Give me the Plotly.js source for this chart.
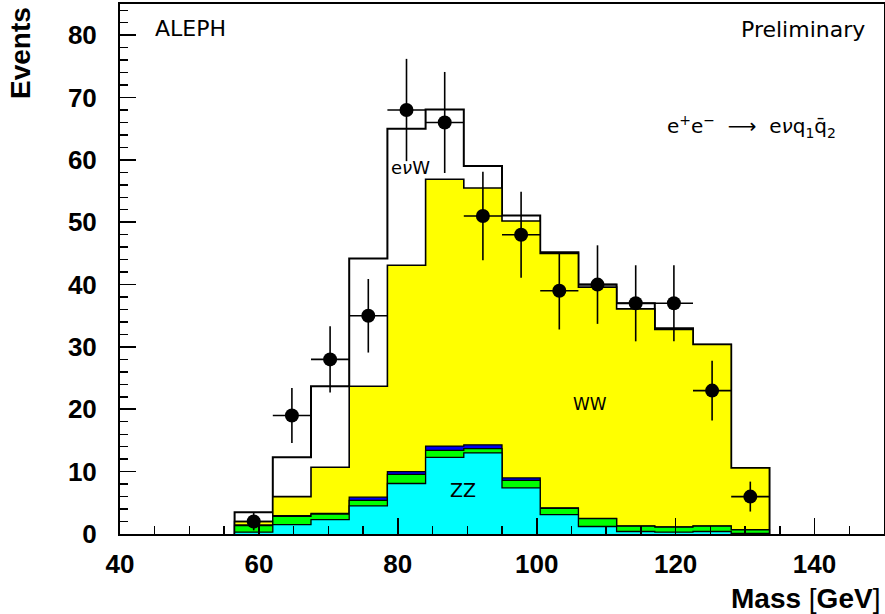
<!DOCTYPE html>
<html>
<head>
<meta charset="utf-8">
<script src="https://cdn.plot.ly/plotly-3.0.1.min.js"></script>
<style>html,body{margin:0;padding:0;background:#fff;}#chart{width:885px;height:614px;}</style>
</head>
<body>
<div id="chart"></div>
<script>
// Bin edges of the mass histogram [GeV]
const binEdges = [56.5, 62, 67.5, 73, 78.5, 84, 89.5, 95, 100.5, 106, 111.5, 117, 122.5, 128, 133.5];

// Per-process expected events in each bin (stacked bottom to top)
const zzEvents    = [0.3, 1.5, 2.3, 4.5, 8.1, 12.3, 13.0, 7.4, 3.1, 1.2, 0.4, 0.3, 0.4, 0.1];          // cyan
const greenEvents = [1.05, 1.35, 0.9, 0.9, 1.45, 1.1, 0.7, 1.2, 1.0, 1.25, 0.85, 0.8, 0.85, 0.55];   // green
const blueEvents  = [0.1, 0.1, 0.1, 0.5, 0.45, 0.7, 0.6, 0.4, 0.1, 0.05, 0.05, 0.05, 0.05, 0.05];   // blue
const wwEvents    = [0.55, 3.05, 7.4, 17.8, 33.1, 42.8, 41.2, 41.2, 40.8, 37.1, 34.8, 31.65, 29.1, 9.9]; // yellow
const enuwEvents  = [1.5, 6.3, 13.0, 20.5, 21.9, 11.2, 3.5, 0.9, 0.2, 0.4, 0.9, 0.2, 0.0, 0.0];     // white

// Data points
const dataMass   = [59.25, 64.75, 70.25, 75.75, 81.25, 86.75, 92.25, 97.75, 103.25, 108.75, 114.25, 119.75, 125.25, 130.75];
const dataEvents = [2, 19, 28, 35, 68, 66, 51, 48, 39, 40, 37, 37, 23, 6];
const dataErr    = [1.4, 4.4, 5.3, 5.9, 8.2, 8.1, 7.1, 6.9, 6.2, 6.3, 6.1, 6.1, 4.8, 2.4];
const halfBin = 2.75;

// Tick labels
const xTicks = [40, 60, 80, 100, 120, 140];
const yTicks = [0, 10, 20, 30, 40, 50, 60, 70, 80];

function addArr(a, b) { return a.map((v, i) => v + b[i]); }
const cumZZ = zzEvents.slice();
const cumGreen = addArr(cumZZ, greenEvents);
const cumBlue = addArr(cumGreen, blueEvents);
const cumWW = addArr(cumBlue, wwEvents);
const cumTotal = addArr(cumWW, enuwEvents);

function stepTrace(vals, fillcolor, lw) {
  const x = [binEdges[0]], y = [0];
  for (let i = 0; i < vals.length; i++) { x.push(binEdges[i]); y.push(vals[i]); }
  const n = binEdges.length - 1;
  x.push(binEdges[n]); y.push(vals[vals.length - 1]);
  x.push(binEdges[n]); y.push(0);
  return {
    type: 'scatter', mode: 'lines', x: x, y: y,
    line: { shape: 'hv', color: '#000', width: lw },
    fill: 'tozeroy', fillcolor: fillcolor, hoverinfo: 'skip', showlegend: false
  };
}

const traces = [
  stepTrace(cumTotal, '#ffffff', 2),
  stepTrace(cumWW, '#ffff00', 1.6),
  stepTrace(cumBlue, '#0000ee', 1.3),
  stepTrace(cumGreen, '#00ff00', 1.3),
  stepTrace(cumZZ, '#00ffff', 1.3),
  {
    type: 'scatter', mode: 'markers', x: dataMass, y: dataEvents,
    marker: { color: '#000', size: 14, symbol: 'circle' },
    error_y: { type: 'data', array: dataErr, visible: true, color: '#000', thickness: 1.6, width: 0 },
    error_x: { type: 'constant', value: halfBin, visible: true, color: '#000', thickness: 1.6, width: 0 },
    showlegend: false, hoverinfo: 'skip'
  }
];

const tickFont = { family: 'Liberation Sans, Arial, sans-serif', size: 26, color: '#000', weight: 'bold' };
const labFam = 'DejaVu Sans, Liberation Sans, sans-serif';
const labFont = { family: labFam, size: 22, color: '#000' };

const layout = {
  width: 885, height: 614, autosize: false,
  margin: { l: 120, r: 1, t: 4, b: 80 },
  paper_bgcolor: '#fff', plot_bgcolor: '#fff',
  showlegend: false,
  xaxis: {
    range: [40, 150], tickvals: xTicks, ticktext: xTicks.map(String),
    ticks: 'inside', ticklen: 16, tickwidth: 1.6, tickcolor: '#000',
    minor: { dtick: 5, tick0: 40, ticks: 'inside', ticklen: 8, tickwidth: 1.4, tickcolor: '#000', showgrid: false },
    showline: true, linecolor: '#000', linewidth: 2, mirror: true,
    showgrid: false, zeroline: false, tickfont: tickFont, ticklabelstandoff: 6
  },
  yaxis: {
    range: [0, 85], tickvals: yTicks, ticktext: yTicks.map(String),
    ticks: 'inside', ticklen: 16, tickwidth: 1.6, tickcolor: '#000',
    minor: { dtick: 2, tick0: 0, ticks: 'inside', ticklen: 8, tickwidth: 1.4, tickcolor: '#000', showgrid: false },
    showline: true, linecolor: '#000', linewidth: 2, mirror: true,
    showgrid: false, zeroline: false, tickfont: tickFont, ticklabelstandoff: 16
  },
  annotations: [
    { text: 'ALEPH', x: 44.8, y: 81.1, xref: 'x', yref: 'y', xanchor: 'left', yanchor: 'middle', showarrow: false, font: labFont },
    { text: 'Preliminary', x: 147.6, y: 80.9, xref: 'x', yref: 'y', xanchor: 'right', yanchor: 'middle', showarrow: false, font: labFont },
    { text: 'e<sup>+</sup>e<sup>\u2212</sup>  \u27F6  e<i>\u03bd</i>q<sub>1</sub>q\u0304<sub>2</sub>', x: 118.5, y: 65.4, xref: 'x', yref: 'y', xanchor: 'left', yanchor: 'middle', showarrow: false, font: { family: labFam, size: 20, color: '#000' } },
    { text: 'e<i>\u03bd</i>W', x: 78.7, y: 58.8, xref: 'x', yref: 'y', xanchor: 'left', yanchor: 'middle', showarrow: false, font: { family: labFam, size: 18, color: '#000' } },
    { text: 'WW', x: 107.7, y: 20.9, xref: 'x', yref: 'y', xanchor: 'center', yanchor: 'middle', showarrow: false, font: { family: labFam, size: 17, color: '#000' } },
    { text: 'ZZ', x: 89.4, y: 7.0, xref: 'x', yref: 'y', xanchor: 'center', yanchor: 'middle', showarrow: false, font: { family: labFam, size: 19, color: '#000' } },
    { text: 'Events', x: -0.131, y: 0.998, xref: 'paper', yref: 'paper', xanchor: 'center', yanchor: 'top', textangle: -90, showarrow: false, font: { family: 'Liberation Sans, Arial, sans-serif', size: 28, color: '#000', weight: 'bold' } },
    { text: '<b>Mass</b> [<b>GeV</b>]', x: 0.997, y: -0.122, xref: 'paper', yref: 'paper', xanchor: 'right', yanchor: 'middle', showarrow: false, font: { family: 'Liberation Sans, Arial, sans-serif', size: 28, color: '#000' } }
  ]
};

Plotly.newPlot('chart', traces, layout, { staticPlot: true, displayModeBar: false });
</script>
</body>
</html>
